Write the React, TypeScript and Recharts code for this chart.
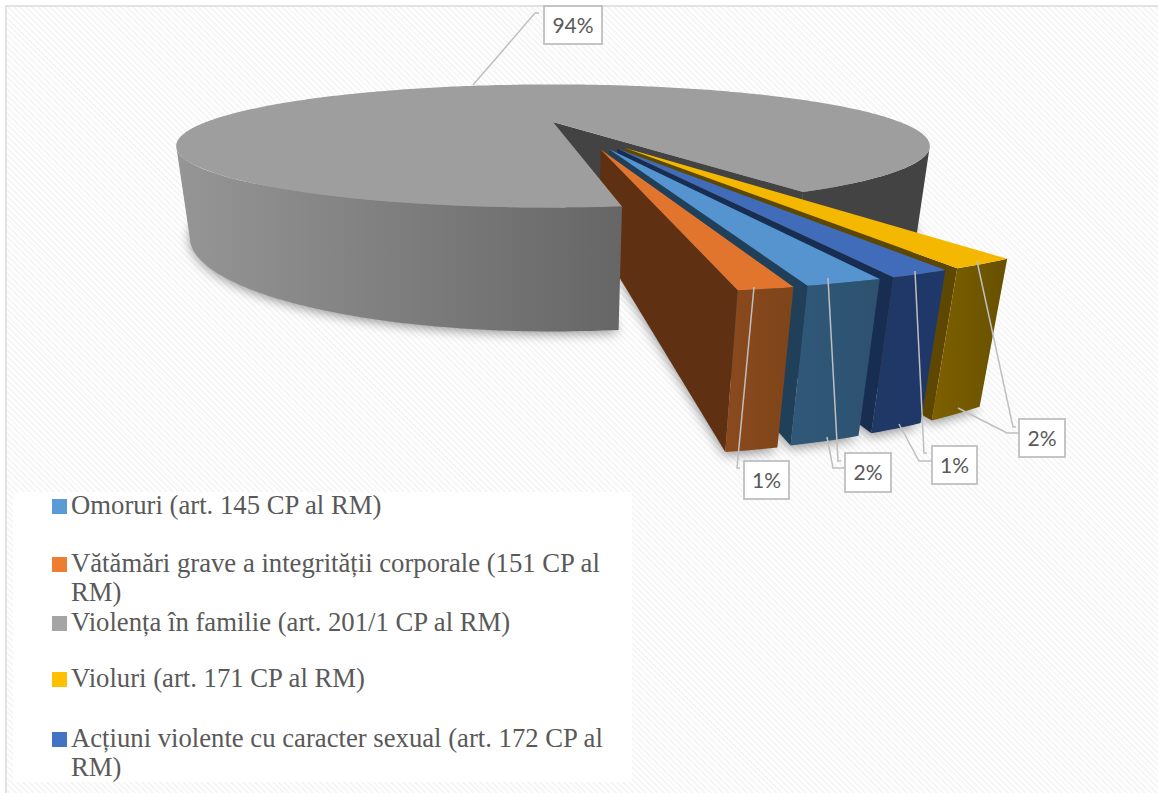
import { PieChart, Pie, Legend } from "recharts";

const categories = [
  "Omoruri (art. 145 CP al RM)",
  "Vătămări grave a integrității corporale (151 CP al RM)",
  "Violența în familie (art. 201/1 CP al RM)",
  "Violuri (art. 171 CP al RM)",
  "Acțiuni violente cu caracter sexual (art. 172 CP al RM)",
];
const shares = [1.7, 1.2, 94.1, 1.6, 1.4];

// draw order goes clockwise starting at Violuri, so the big slice ends up on top
const drawOrder = [3, 4, 0, 1, 2];

const legendColors = ["#5b9bd5", "#ed7d31", "#a5a5a5", "#ffc000", "#4472c4"];
const topColors = ["#5594ce", "#e1752d", "#9e9e9e", "#f4b800", "#416cb9"];
const sideColors = ["#203f58", "#5f3012", "#434343", "#5e4700", "#182d52"];
const frontFrom = ["#305878", "#8a4a1d", "#969696", "#7f6000", "#1f3864"];
const frontTo = ["#2d5270", "#7e441a", "#666666", "#665000", "#20386a"];

const pieData = drawOrder.map((i) => ({ name: categories[i], value: shares[i], idx: i }));

// camera, fitted on the reference: depth foreshortening, squash, wall height
const PERSP = 0.39;
const SQUASH = 0.1505;
const DROP = 0.237;
const DROP_W = 0.032;
const EXPLODE = 0.45;
const RAD = Math.PI / 180;

const CX = 553;
const CY = 122;
const R = 347;

type Pt = [number, number];

function project(x: number, z: number, h: number): Pt {
  const w = 1 - PERSP * z + DROP_W * h;
  return [CX + (R * x) / w, CY + (R * (SQUASH * z + DROP * h)) / w];
}

// recharts angle -> point on the unit disc (x right, z towards the viewer)
function disc(angle: number): Pt {
  return [Math.cos(angle * RAD), -Math.sin(angle * RAD)];
}

function toPath(pts: Pt[]) {
  return "M" + pts.map((p) => `${p[0].toFixed(1)},${p[1].toFixed(1)}`).join("L") + "Z";
}

function arc(a0: number, a1: number, ox: number, oz: number, h: number) {
  const n = Math.max(1, Math.ceil(Math.abs(a1 - a0)));
  const pts: Pt[] = [];
  for (let i = 0; i <= n; i++) {
    const [x, z] = disc(a0 + ((a1 - a0) * i) / n);
    pts.push(project(x + ox, z + oz, h));
  }
  return pts;
}

// exploded slices fan out less than their own angle
function offsetOf(startAngle: number, endAngle: number, value: number): Pt {
  if (value > 50) return [0, 0];
  const theta = (startAngle + endAngle) / 2 + 90;
  const dir = (10.1 + 0.5 * theta) * RAD;
  return [EXPLODE * Math.sin(dir), EXPLODE * Math.cos(dir)];
}

// where the rim turns away from the camera (z = PERSP), in degrees below the x axis
const SILHOUETTE = Math.asin(PERSP) / RAD;

function BackShape(props: any) {
  const { startAngle, endAngle, payload } = props;
  const value = payload.value;
  const [ox, oz] = offsetOf(startAngle, endAngle, value);
  const apex = project(ox, oz, 1.02);
  const shadow = [apex, ...arc(startAngle, endAngle, ox, oz, 1.02)];
  const big = value > 50;
  const a = endAngle;
  const cut: Pt[] = [project(0, 0, 0), ...arc(a, a, 0, 0, 0), ...arc(a, a, 0, 0, 1), project(0, 0, 1)];
  // right part of the rim, up to its silhouette
  const rightEnd = -360 - SILHOUETTE;
  return (
    <g>
      <path d={toPath(shadow)} fill="#000" opacity={0.42} filter="url(#softShadow)" />
      {big && (
        <>
          <path d={toPath(cut)} fill={sideColors[2]} />
          <path
            d={toPath([...arc(a, rightEnd, 0, 0, 0), ...arc(rightEnd, a, 0, 0, 1)])}
            fill={sideColors[2]}
          />
        </>
      )}
    </g>
  );
}

function SliceShape(props: any) {
  const { startAngle, endAngle, payload } = props;
  const { value, idx } = payload;
  const [ox, oz] = offsetOf(startAngle, endAngle, value);
  const big = value > 50;
  const apexTop = project(ox, oz, 0);
  const apexBot = project(ox, oz, 1);
  const top = [apexTop, ...arc(startAngle, endAngle, ox, oz, 0)];
  const grad = `front-${idx}`;

  if (big) {
    const leftEnd = -180 + SILHOUETTE;
    return (
      <g>
        <defs>
          <linearGradient id={grad} gradientUnits="userSpaceOnUse" x1={173} x2={622} y1={0} y2={0}>
            <stop offset="0" stopColor={frontFrom[idx]} />
            <stop offset="0.25" stopColor="#8a8a8a" />
            <stop offset="1" stopColor={frontTo[idx]} />
          </linearGradient>
        </defs>
        <path
          d={toPath([...arc(startAngle, leftEnd, ox, oz, 0), ...arc(leftEnd, startAngle, ox, oz, 1)])}
          fill={`url(#${grad})`}
        />
        <path d={toPath(top)} fill={topColors[idx]} />
      </g>
    );
  }

  // the side facing the camera is the one on the endAngle edge
  const edgeTop = arc(endAngle, endAngle, ox, oz, 0)[0];
  const edgeBot = arc(endAngle, endAngle, ox, oz, 1)[0];
  return (
    <g>
      <defs>
        <linearGradient id={grad} x1="0" x2="1" y1="0" y2="0">
          <stop offset="0" stopColor={frontFrom[idx]} />
          <stop offset="1" stopColor={frontTo[idx]} />
        </linearGradient>
      </defs>
      <path d={toPath([apexTop, edgeTop, edgeBot, apexBot])} fill={sideColors[idx]} />
      <path
        d={toPath([...arc(startAngle, endAngle, ox, oz, 0), ...arc(endAngle, startAngle, ox, oz, 1)])}
        fill={`url(#${grad})`}
      />
      <path d={toPath(top)} fill={topColors[idx]} />
    </g>
  );
}

// callout boxes and their leader lines, per category index
const callouts: Record<number, { box: number[]; lines: Pt[][] }> = {
  2: { box: [544, 6, 58, 38], lines: [[[473, 85], [535, 13], [539, 13]]] },
  1: { box: [744, 461, 45, 38], lines: [[[754, 287], [737, 468], [740, 468]]] },
  0: {
    box: [845, 453, 46, 39],
    lines: [
      [[828, 278], [838, 461], [841, 461]],
      [[827, 437], [833, 468], [845, 468]],
    ],
  },
  4: {
    box: [932, 446, 45, 38],
    lines: [
      [[915, 271], [924, 453], [927, 453]],
      [[899, 424], [919, 461], [932, 461]],
    ],
  },
  3: {
    box: [1019, 419, 46, 38],
    lines: [
      [[977, 261], [1013, 427], [1016, 427]],
      [[958, 408], [1007, 433], [1019, 433]],
    ],
  },
};

function renderCallout(props: any) {
  const c = callouts[props.idx ?? props.payload?.idx];
  if (!c) return null;
  const [x, y, w, h] = c.box;
  return (
    <g>
      {c.lines.map((line, i) => (
        <polyline
          key={i}
          points={line.map((p) => p.join(",")).join(" ")}
          fill="none"
          stroke="#bfbfbf"
          strokeWidth={1.5}
        />
      ))}
      <rect x={x} y={y} width={w} height={h} fill="#fff" stroke="#bfbfbf" strokeWidth={1.8} />
      <text
        x={x + w / 2}
        y={y + h / 2 + 7.5}
        textAnchor="middle"
        fontFamily="Lato, sans-serif"
        fontSize={21}
        fill="#595959"
      >
        {Math.round(props.value)}%
      </text>
    </g>
  );
}

const legendTops = [490.5, 548.5, 607.5, 663.5, 723.5];

function LegendBox() {
  return (
    <div
      style={{
        position: "relative",
        width: 619,
        height: 290,
        background: "rgba(255,255,255,0.85)",
        fontFamily: '"Liberation Serif", serif',
        fontSize: 26.7,
        lineHeight: "29px",
        color: "#595959",
      }}
    >
      {categories.map((name, i) => (
        <div key={name} style={{ position: "absolute", left: 58, top: legendTops[i] - 492, width: 545 }}>
          <span
            style={{
              position: "absolute",
              left: -19,
              top: 8,
              width: 15,
              height: 15,
              background: legendColors[i],
            }}
          />
          {name}
        </div>
      ))}
    </div>
  );
}

export default function App() {
  return (
    <div
      style={{
        position: "absolute",
        left: 0,
        top: 0,
        width: 1158,
        height: 793,
        overflow: "hidden",
        background: "#fff",
      }}
    >
      <div
        style={{
          position: "absolute",
          left: 5,
          top: 5,
          width: 1300,
          height: 900,
          border: "2px solid #e2e2e2",
          background:
            "repeating-linear-gradient(45deg, #ffffff 0px, #ffffff 2.1px, #f6f6f6 2.1px, #f6f6f6 4.2px)",
        }}
      />
      <div style={{ position: "absolute", left: 0, top: 0 }}>
        <PieChart width={1158} height={793} margin={{ top: 0, right: 0, bottom: 0, left: 0 }}>
          <defs>
            <filter id="softShadow" filterUnits="userSpaceOnUse" x={0} y={0} width={1158} height={793}>
              <feGaussianBlur stdDeviation={6} />
            </filter>
          </defs>
          <Pie
            data={pieData}
            dataKey="value"
            nameKey="name"
            cx={CX}
            cy={CY}
            outerRadius={R}
            startAngle={-61.76}
            endAngle={-421.76}
            isAnimationActive={false}
            shape={BackShape}
            legendType="none"
          />
          <Pie
            data={pieData}
            dataKey="value"
            nameKey="name"
            cx={CX}
            cy={CY}
            outerRadius={R}
            startAngle={-61.76}
            endAngle={-421.76}
            isAnimationActive={false}
            shape={SliceShape}
            label={renderCallout}
            labelLine={false}
          />
          <Legend
            content={() => <LegendBox />}
            wrapperStyle={{ position: "absolute", left: 13, top: 492, width: 619, height: 290 }}
          />
        </PieChart>
      </div>
    </div>
  );
}
